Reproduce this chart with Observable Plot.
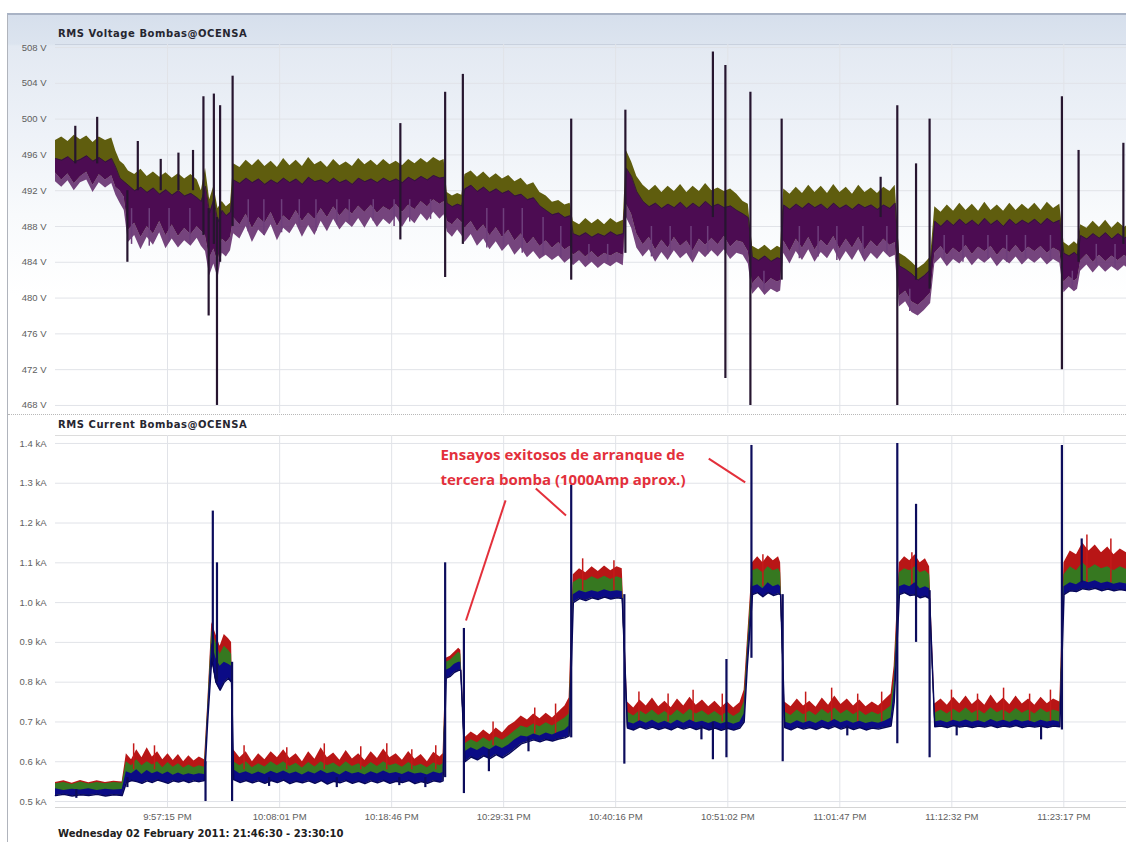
<!DOCTYPE html>
<html><head><meta charset="utf-8">
<script src="https://cdn.jsdelivr.net/npm/d3@7"></script>
<script src="https://cdn.jsdelivr.net/npm/@observablehq/plot@0.6"></script>
<style>
html,body{margin:0;padding:0;background:#fff;overflow:hidden;}
#wrap{position:relative;width:1126px;height:842px;overflow:hidden;}
#topbg{position:absolute;left:8px;top:15px;width:1118px;height:400px;background:linear-gradient(to bottom,#d6dfec 0px,#dce4ef 29px,#e3e9f2 31px,#eef2f8 120px,#f8fafc 200px,#ffffff 280px);}
#frameL{position:absolute;left:7px;top:13px;width:1px;height:829px;background:#b0b4bc;}
#frameT{position:absolute;left:7px;top:13px;width:1119px;height:2px;background:#a9b3c5;}
#line1{position:absolute;left:55px;top:44px;width:1071px;height:1px;background:#c9d1de;}
#sep{position:absolute;left:8px;top:414px;width:1118px;height:0;border-top:1px dotted #b8b8b8;}
#line2{position:absolute;left:55px;top:435px;width:1071px;height:1px;background:#dcdcdc;}
.title{position:absolute;left:58px;font-family:"DejaVu Sans",sans-serif;font-weight:bold;font-size:10px;letter-spacing:0.55px;color:#262630;white-space:nowrap;}
#caption{position:absolute;left:58px;top:828px;font-family:"DejaVu Sans",sans-serif;font-weight:bold;font-size:10px;line-height:12px;color:#202020;white-space:nowrap;}
.plot{position:absolute;left:0;}
</style></head>
<body><div id="wrap">
<div id="topbg"></div><div id="frameL"></div><div id="frameT"></div>
<div id="line1"></div><div id="sep"></div><div id="line2"></div>
<div id="p1" class="plot" style="top:14px"></div>
<div id="p2" class="plot" style="top:416px"></div>
<div class="title" style="top:28px">RMS Voltage Bombas@OCENSA</div>
<div class="title" style="top:419px">RMS Current Bombas@OCENSA</div>
<div id="caption">Wednesday 02 February 2011: 21:46:30 - 23:30:10</div>
</div>
<script>
// ---------- time axis ----------
const xTickTimes = ["21:57:15","22:08:01","22:18:46","22:29:31","22:40:16","22:51:02","23:01:47","23:12:32","23:23:17"];
const xTickLabels = ["9:57:15 PM","10:08:01 PM","10:18:46 PM","10:29:31 PM","10:40:16 PM","10:51:02 PM","11:01:47 PM","11:12:32 PM","11:23:17 PM"];
const startTime = "21:46:30";
const visibleMinutes = 102.8;

// ---------- voltage (V) : minutes after 21:46:30 ----------
const vTicks = [468,472,476,480,484,488,492,496,500,504,508];
const vTime = [
0.0,0.6,1.2,1.8,2.4,3.0,3.6,4.2,4.8,5.4,5.8,6.2,6.6,
7.0,7.6,8.2,8.8,9.4,10.0,10.6,11.2,11.8,12.4,13.0,13.6,
14.0,14.4,14.8,15.2,15.6,16.0,16.4,16.8,
17.1,17.7,18.3,18.9,19.5,20.1,20.7,21.3,21.9,22.5,23.1,23.7,24.3,24.9,25.5,26.1,26.7,27.3,27.9,28.5,29.1,29.7,30.3,30.9,31.5,32.1,32.7,33.3,33.9,34.5,35.1,35.7,36.3,36.9,37.3,
37.6,38.1,38.6,39.0,
39.3,39.9,40.5,41.1,41.7,42.3,42.9,43.5,44.1,44.7,45.3,45.9,46.5,47.1,47.7,48.3,48.9,49.4,
49.7,50.3,50.9,51.5,52.1,52.7,53.3,53.9,54.5,
54.8,55.3,55.8,56.4,57.0,57.6,58.2,58.8,59.4,60.0,60.6,61.2,61.8,62.4,63.0,63.6,64.2,64.8,65.4,66.0,66.5,
66.9,67.5,68.1,68.7,69.3,69.6,
69.9,70.5,71.1,71.7,72.3,72.9,73.5,74.1,74.7,75.3,75.9,76.5,77.1,77.7,78.3,78.9,79.5,80.1,80.6,
81.0,81.6,82.2,82.8,83.4,84.0,
84.4,85.0,85.6,86.2,86.8,87.4,88.0,88.6,89.2,89.8,90.4,91.0,91.6,92.2,92.8,93.4,94.0,94.6,95.2,95.8,96.4,
96.8,97.3,97.8,98.1,
98.4,99.0,99.6,100.2,100.8,101.4,102.0,102.6,103.2];
// phase A (olive) upper envelope
const vPhaseA = [
497.6,498.0,497.5,498.2,497.7,498.1,497.4,498.0,497.6,497.9,496.4,495.3,494.9,
494.2,493.8,494.4,493.6,494.1,493.5,494.0,493.4,493.9,493.3,493.8,493.2,
492.0,494.5,491.0,492.5,490.0,490.8,490.2,490.6,
495.0,494.6,495.4,494.8,495.5,494.7,495.3,494.6,495.6,494.8,495.4,494.7,495.7,494.9,495.3,494.6,495.5,494.8,495.2,494.7,495.6,494.9,495.4,494.8,495.5,494.9,495.3,494.8,495.5,495.0,495.6,495.1,495.7,495.3,495.5,
491.8,491.4,491.7,491.5,
493.8,494.2,493.5,494.1,493.4,493.9,493.3,493.7,493.0,493.4,492.6,492.9,491.8,491.4,490.7,490.9,490.4,490.6,
488.6,488.2,488.9,488.3,488.8,488.2,488.9,488.4,488.7,
496.5,495.2,493.6,492.6,492.0,492.6,491.8,492.5,491.9,492.7,491.8,492.5,491.9,492.8,492.0,492.3,491.9,492.2,491.6,490.8,490.5,
485.8,485.4,485.9,485.3,485.8,485.6,
492.2,491.6,492.4,491.7,492.6,491.8,492.5,491.7,492.7,491.8,492.4,491.6,492.6,491.8,492.3,491.7,492.4,491.9,492.6,
485.0,484.6,484.0,483.3,483.8,484.6,
490.2,489.6,490.4,489.7,490.6,489.8,490.5,489.7,490.7,489.8,490.4,489.7,490.6,489.8,490.5,489.9,490.6,489.8,490.7,490.0,490.5,
486.2,485.8,486.3,486.0,
488.2,487.8,488.6,487.9,488.7,487.8,488.5,487.9,488.4];
// phase B (purple) upper envelope
const vPhaseB = [
495.6,495.4,495.8,495.2,495.5,495.9,495.3,495.7,495.2,495.6,494.6,493.4,493.0,
492.6,492.0,492.4,491.8,492.3,491.6,492.1,491.5,492.0,491.4,491.7,491.2,
490.8,492.5,489.5,491.0,488.5,489.8,489.2,489.6,
493.2,492.8,493.4,492.9,493.3,492.7,493.2,492.8,493.4,492.9,493.3,492.7,493.5,493.0,493.2,492.8,493.4,492.9,493.2,492.7,493.4,493.0,493.3,492.9,493.4,493.0,493.3,492.9,493.5,493.1,493.6,493.2,493.7,493.4,493.5,
490.6,490.2,490.5,490.3,
492.2,492.6,491.9,492.4,491.8,492.2,491.7,492.0,491.4,491.6,491.0,491.2,490.3,489.8,489.3,489.5,489.0,489.2,
487.2,486.9,487.3,486.8,487.2,486.9,487.4,487.0,487.2,
494.5,493.6,491.9,490.8,490.2,490.6,490.0,490.5,490.1,490.7,490.0,490.6,490.1,490.8,490.2,490.5,490.1,490.3,489.8,489.4,489.0,
484.6,484.2,484.7,484.1,484.5,484.4,
490.4,489.9,490.5,490.0,490.6,490.1,490.5,489.9,490.6,490.0,490.4,489.9,490.5,490.1,490.4,489.9,490.4,490.0,490.6,
483.6,483.2,482.7,482.0,482.5,483.2,
488.6,488.0,488.7,488.1,488.8,488.2,488.7,488.1,488.9,488.2,488.7,488.0,488.8,488.2,488.7,488.3,488.8,488.2,488.9,488.4,488.7,
485.0,484.7,485.1,484.8,
487.0,486.6,487.2,486.7,487.3,486.6,487.2,486.7,487.1];
// phase B lower envelope of the dense body
const vPhaseBLow = [
494.0,493.2,493.9,492.8,493.6,494.1,492.6,493.8,493.2,493.7,492.4,492.0,491.3,
487.6,488.4,486.8,488.0,487.2,488.6,487.0,488.2,486.9,487.8,487.1,488.0,
487.5,487.0,484.5,485.5,484.0,486.6,486.2,486.8,
489.0,488.2,489.4,487.8,489.0,488.4,489.6,488.0,489.2,488.6,489.8,488.6,489.5,488.8,490.0,489.0,490.2,489.2,490.0,489.4,490.3,489.6,490.4,489.5,490.2,489.8,490.5,489.6,490.4,489.9,490.8,490.2,491.0,490.5,490.8,
488.6,488.2,488.9,488.5,
487.8,488.6,487.4,488.2,487.0,487.9,486.8,487.6,486.4,487.2,486.0,486.8,485.8,486.4,485.6,486.2,485.4,485.8,
484.8,485.3,484.6,485.2,484.5,485.0,484.7,485.1,484.8,
490.5,489.4,487.2,486.0,486.8,485.4,486.5,485.6,486.8,485.8,486.4,485.3,486.6,485.9,486.7,486.0,486.9,485.7,486.4,486.2,485.2,
481.6,482.4,481.5,482.2,481.8,482.0,
486.4,485.2,486.6,485.6,486.8,485.4,486.5,485.8,486.9,485.5,486.6,485.6,486.8,485.4,486.4,485.7,486.6,485.9,486.2,
480.2,480.8,479.6,479.2,479.8,480.6,
485.0,485.8,484.8,485.6,485.0,485.9,484.9,485.7,485.2,485.8,484.8,485.6,485.1,485.9,485.0,485.7,485.2,485.8,485.0,485.6,485.2,
481.8,482.4,481.9,482.2,
484.2,484.9,484.0,484.8,484.1,484.7,484.2,484.8,484.3];
// phase B lower fringe (deepest extent of the thin streaks)
const vPhaseBFringe = [
493.0,492.4,493.1,492.0,492.9,493.2,491.8,492.9,492.3,492.8,491.5,490.6,489.8,
486.2,487.0,485.4,486.8,485.9,487.3,485.5,486.6,485.6,486.4,485.8,486.7,
485.8,485.2,482.5,483.8,482.2,485.0,484.6,485.3,
487.2,486.6,488.0,486.2,487.6,486.9,488.2,486.4,487.8,487.2,488.3,486.8,488.1,487.0,488.6,487.4,488.8,487.6,488.5,487.9,488.9,487.8,489.0,487.9,488.8,488.2,489.1,487.9,489.0,488.3,489.4,488.6,489.6,488.8,489.3,
487.4,486.8,487.6,487.0,
486.2,487.1,485.8,486.6,485.4,486.3,485.2,486.0,484.8,485.6,484.5,485.2,484.3,484.8,484.2,484.7,483.9,484.4,
483.6,484.2,483.4,484.0,483.3,483.9,483.5,484.0,483.6,
489.0,487.8,485.6,484.6,485.4,484.0,485.1,484.2,485.3,484.4,485.0,483.9,485.2,484.5,485.3,484.6,485.4,484.3,485.0,484.8,483.8,
480.4,481.2,480.3,481.0,480.6,480.8,
485.0,483.8,485.2,484.2,485.4,484.0,485.1,484.4,485.5,484.1,485.2,484.2,485.4,484.0,485.0,484.3,485.2,484.5,484.8,
479.0,479.6,478.4,478.0,478.6,479.4,
483.8,484.5,483.5,484.3,483.8,484.6,483.6,484.4,483.9,484.5,483.5,484.3,483.8,484.6,483.7,484.4,483.9,484.5,483.7,484.3,483.9,
480.6,481.2,480.7,481.0,
483.0,483.7,482.8,483.6,482.9,483.5,483.0,483.6,483.1];
// transient spikes (voltage)
const vSpikeTime = [1.9,4.0,6.9,7.9,10.1,11.8,13.2,14.2,14.7,15.2,15.5,15.8,17.0,33.1,37.4,39.1,49.5,54.7,63.1,64.3,66.7,69.7,79.2,80.8,82.6,83.9,96.6,98.2,102.5];
const vSpikeLow  = [495,495,484.0,492,492,492,492,487,478,486,468,484,488,486.5,482.3,486.0,482.0,485.0,489,471.0,468.0,482,489,468.0,482,481,472.0,484,486];
const vSpikeHigh = [499.2,500.2,492,497.5,495.5,496.2,496.5,502.5,490,502.8,489,501.5,504.8,499.5,503.0,505.0,500.0,501.0,507.5,506.0,503.0,500.0,493.5,501.5,495.0,500.0,502.5,496.5,497.3];
// downward fringe needles (voltage)
const vFringeTime = [7.3,9.0,10.9,12.9,18.5,20.0,21.7,23.4,25.0,27.0,28.2,30.5,32.5,34.0,36.0,41.4,43.0,44.8,46.8,48.5,51.2,53.0,57.2,59.0,61.0,62.6,68.0,71.4,73.2,75.0,77.5,79.8,82.0,85.3,87.1,89.5,91.3,93.1,95.5,97.6,99.9,101.7];
const vFringeLow  = [486.0,485.8,486.3,486.0,487.4,487.0,487.3,487.8,487.5,488.2,488.5,488.6,488.0,488.5,488.8,485.6,485.5,485.0,484.8,484.5,484.2,484.0,484.6,484.8,484.4,484.9,480.8,484.4,484.6,484.2,484.5,484.9,478.5,484.2,484.0,484.3,484.0,484.4,484.1,481.0,483.6,483.4];
const vFringeHigh = [490,490,490,490,491,491,491,491,491,491,491,491,491,491,491,490,490,490,489,488,486,486,488,488,488,488,483,488,488,488,488,488,481,487,487,487,487,487,487,483,486,486];

// ---------- current (kA) ----------
const cTicks = [0.5,0.6,0.7,0.8,0.9,1.0,1.1,1.2,1.3,1.4];
const cTime = [
0.0,0.8,1.6,2.4,3.2,4.0,4.8,5.6,6.4,
6.8,7.3,7.8,8.3,8.8,9.3,9.8,10.3,10.8,11.3,11.8,12.3,12.8,13.3,13.8,14.3,
14.6,15.0,15.4,15.8,16.2,16.6,16.9,
17.1,17.7,18.3,18.9,19.5,20.1,20.7,21.3,21.9,22.5,23.1,23.7,24.3,24.9,25.5,26.1,26.7,27.3,27.9,28.5,29.1,29.7,30.3,30.9,31.5,32.1,32.7,33.3,33.9,34.5,35.1,35.7,36.3,36.9,37.2,
37.5,37.9,38.3,38.7,38.9,
39.3,39.9,40.5,41.1,41.7,42.3,42.9,43.5,44.1,44.7,45.3,45.9,46.5,47.1,47.7,48.3,48.9,49.3,
49.7,50.3,50.9,51.5,52.1,52.7,53.3,53.9,54.4,
54.9,55.5,56.1,56.7,57.3,57.9,58.5,59.1,59.7,60.3,60.9,61.5,62.1,62.7,63.3,63.9,64.5,65.1,65.7,66.1,66.4,
66.9,67.4,67.9,68.4,68.9,69.4,69.6,
70.0,70.6,71.2,71.8,72.4,73.0,73.6,74.2,74.8,75.4,76.0,76.6,77.2,77.8,78.4,79.0,79.6,80.2,80.5,
81.0,81.5,82.0,82.5,83.0,83.5,83.9,
84.4,85.0,85.6,86.2,86.8,87.4,88.0,88.6,89.2,89.8,90.4,91.0,91.6,92.2,92.8,93.4,94.0,94.6,95.2,95.8,96.4,
96.8,97.4,98.0,98.6,99.2,99.8,100.4,101.0,101.6,102.2,102.8,103.2];
const cPhaseRed = [
0.548,0.552,0.546,0.553,0.547,0.552,0.548,0.551,0.549,
0.62,0.605,0.63,0.61,0.635,0.612,0.625,0.605,0.62,0.603,0.618,0.60,0.615,0.602,0.612,0.605,
0.74,0.95,0.92,0.89,0.92,0.91,0.90,
0.63,0.61,0.625,0.60,0.62,0.605,0.625,0.61,0.63,0.608,0.62,0.60,0.625,0.606,0.635,0.61,0.622,0.604,0.628,0.607,0.62,0.603,0.625,0.608,0.632,0.61,0.62,0.604,0.626,0.606,0.618,0.60,0.624,0.612,0.62,
0.86,0.865,0.875,0.885,0.88,
0.66,0.675,0.665,0.68,0.668,0.685,0.672,0.69,0.70,0.715,0.705,0.72,0.708,0.722,0.71,0.725,0.74,0.76,
1.07,1.085,1.075,1.09,1.078,1.092,1.08,1.09,1.085,
0.75,0.735,0.755,0.74,0.76,0.738,0.752,0.736,0.758,0.74,0.762,0.742,0.755,0.738,0.752,0.736,0.75,0.735,0.748,0.78,0.90,
1.10,1.115,1.10,1.118,1.105,1.115,1.10,
0.75,0.738,0.758,0.74,0.752,0.737,0.76,0.742,0.765,0.744,0.758,0.74,0.755,0.738,0.75,0.74,0.755,0.77,0.84,
1.10,1.115,1.105,1.12,1.10,1.11,1.09,
0.745,0.758,0.742,0.762,0.745,0.765,0.744,0.758,0.742,0.768,0.746,0.76,0.743,0.765,0.745,0.758,0.742,0.762,0.746,0.758,0.75,
1.10,1.13,1.12,1.15,1.13,1.145,1.125,1.14,1.12,1.135,1.125,1.13];
const cPhaseGreen = [
0.545,0.548,0.543,0.549,0.544,0.548,0.545,0.548,0.546,
0.60,0.59,0.605,0.59,0.60,0.592,0.60,0.585,0.598,0.586,0.595,0.584,0.592,0.585,0.59,0.586,
0.73,0.93,0.90,0.87,0.89,0.88,0.87,
0.60,0.59,0.60,0.585,0.595,0.587,0.60,0.59,0.60,0.588,0.596,0.584,0.598,0.587,0.60,0.59,0.597,0.586,0.60,0.588,0.595,0.585,0.598,0.588,0.60,0.59,0.595,0.586,0.598,0.588,0.594,0.585,0.597,0.59,0.595,
0.85,0.855,0.865,0.875,0.87,
0.645,0.655,0.648,0.66,0.65,0.662,0.654,0.665,0.678,0.69,0.685,0.695,0.688,0.698,0.69,0.70,0.71,0.72,
1.05,1.06,1.055,1.065,1.058,1.066,1.058,1.065,1.06,
0.725,0.715,0.728,0.718,0.73,0.716,0.726,0.715,0.73,0.718,0.732,0.72,0.728,0.716,0.726,0.715,0.725,0.714,0.724,0.75,0.88,
1.08,1.085,1.075,1.09,1.08,1.085,1.075,
0.725,0.716,0.73,0.718,0.727,0.716,0.732,0.72,0.735,0.72,0.73,0.718,0.728,0.716,0.725,0.718,0.728,0.74,0.81,
1.075,1.085,1.08,1.09,1.075,1.08,1.07,
0.722,0.73,0.72,0.732,0.722,0.735,0.721,0.73,0.72,0.736,0.723,0.731,0.72,0.734,0.722,0.73,0.72,0.733,0.723,0.73,0.725,
1.07,1.09,1.08,1.10,1.085,1.095,1.085,1.09,1.08,1.09,1.083,1.087];
const cPhaseBlue = [
0.532,0.528,0.531,0.529,0.532,0.528,0.531,0.529,0.530,
0.575,0.57,0.58,0.568,0.578,0.57,0.575,0.568,0.574,0.566,0.572,0.566,0.57,0.567,0.57,0.568,
0.72,0.90,0.86,0.84,0.85,0.845,0.84,
0.58,0.57,0.575,0.568,0.574,0.568,0.576,0.57,0.577,0.569,0.574,0.567,0.575,0.569,0.578,0.57,0.574,0.567,0.576,0.569,0.573,0.567,0.575,0.569,0.577,0.57,0.573,0.568,0.575,0.569,0.572,0.567,0.574,0.57,0.573,
0.83,0.835,0.845,0.85,0.85,
0.625,0.635,0.628,0.638,0.63,0.64,0.633,0.642,0.655,0.665,0.662,0.67,0.665,0.672,0.667,0.674,0.68,0.69,
1.02,1.03,1.025,1.03,1.026,1.032,1.027,1.03,1.028,
0.70,0.695,0.703,0.697,0.704,0.696,0.702,0.695,0.704,0.697,0.705,0.698,0.702,0.696,0.701,0.695,0.70,0.694,0.70,0.72,0.86,
1.04,1.045,1.035,1.05,1.04,1.045,1.04,
0.70,0.695,0.703,0.697,0.702,0.696,0.704,0.698,0.706,0.698,0.703,0.697,0.702,0.696,0.70,0.697,0.702,0.71,0.78,
1.04,1.045,1.04,1.05,1.035,1.04,1.035,
0.70,0.703,0.698,0.704,0.70,0.705,0.699,0.703,0.698,0.706,0.70,0.704,0.699,0.705,0.70,0.703,0.698,0.704,0.70,0.703,0.70,
1.04,1.05,1.045,1.055,1.05,1.055,1.048,1.052,1.046,1.05,1.047,1.05];
const cPhaseBlueLow = [
0.515,0.518,0.514,0.517,0.515,0.518,0.514,0.517,0.515,
0.548,0.553,0.55,0.546,0.552,0.548,0.554,0.55,0.546,0.552,0.549,0.553,0.548,0.552,0.55,0.553,
0.70,0.86,0.80,0.78,0.80,0.81,0.80,
0.555,0.548,0.553,0.547,0.552,0.546,0.553,0.548,0.554,0.545,0.551,0.547,0.552,0.546,0.553,0.544,0.551,0.547,0.553,0.546,0.551,0.545,0.552,0.547,0.553,0.546,0.551,0.548,0.553,0.545,0.55,0.546,0.552,0.549,0.552,
0.81,0.815,0.825,0.83,0.83,
0.60,0.612,0.605,0.615,0.608,0.618,0.61,0.62,0.632,0.645,0.65,0.655,0.65,0.656,0.652,0.657,0.66,0.665,
1.00,1.01,1.005,1.012,1.008,1.014,1.009,1.012,1.01,
0.685,0.68,0.688,0.682,0.687,0.681,0.686,0.68,0.688,0.682,0.687,0.681,0.686,0.68,0.685,0.679,0.684,0.68,0.685,0.70,0.84,
1.02,1.025,1.015,1.025,1.018,1.022,1.02,
0.686,0.68,0.688,0.682,0.686,0.681,0.688,0.683,0.689,0.682,0.687,0.681,0.686,0.68,0.685,0.682,0.686,0.69,0.75,
1.02,1.025,1.018,1.02,1.012,1.016,1.01,
0.688,0.69,0.686,0.691,0.687,0.69,0.686,0.69,0.687,0.691,0.686,0.69,0.687,0.691,0.686,0.69,0.687,0.69,0.686,0.69,0.688,
1.02,1.03,1.028,1.035,1.032,1.036,1.03,1.034,1.03,1.033,1.03,1.032];
// transient spikes (current)
const cSpikeTime = [2.0,6.9,14.4,15.1,15.5,16.95,20.5,27.0,33.0,35.5,37.4,39.2,41.6,45.4,49.5,54.6,62.0,63.1,64.4,66.8,69.8,76.0,80.8,82.6,83.9,86.5,94.6,96.6,98.5];
const cSpikeLow  = [0.508,0.535,0.50,0.85,0.80,0.50,0.538,0.535,0.54,0.535,0.56,0.52,0.575,0.625,0.66,0.594,0.655,0.605,0.61,0.86,0.60,0.665,0.645,0.90,0.61,0.665,0.655,0.68,1.05];
const cSpikeHigh = [0.53,0.56,0.60,1.23,1.10,0.85,0.56,0.56,0.56,0.56,1.10,0.935,0.63,0.66,1.295,1.02,0.69,0.70,0.857,1.395,1.02,0.69,1.40,1.247,1.03,0.69,0.69,1.395,1.16];
// upward fringe needles (red phase)
const cFringeTime = [7.5,9.5,18.1,22.2,25.8,29.3,31.8,34.2,36.5,42.0,46.0,48.0,50.6,53.6,56.0,58.8,61.2,64.0,67.9,72.0,74.5,77.0,79.3,82.2,86.0,88.5,91.0,93.5,95.5,99.0,101.3];
const cFringeLow  = [0.58,0.58,0.58,0.58,0.58,0.58,0.58,0.58,0.58,0.64,0.67,0.67,1.03,1.03,0.70,0.70,0.70,0.70,1.04,0.70,0.70,0.70,0.70,1.04,0.70,0.70,0.70,0.70,0.70,1.05,1.05];
const cFringeHigh = [0.645,0.64,0.64,0.635,0.645,0.638,0.645,0.63,0.64,0.70,0.735,0.745,1.11,1.105,0.775,0.77,0.78,0.77,1.12,0.775,0.785,0.77,0.775,1.125,0.78,0.77,0.785,0.77,0.78,1.17,1.16];

// ---------- annotation ----------
const annText = ["Ensayos exitosos de arranque de", "tercera bomba (1000Amp aprox.)"];
const annTextTime = [36.95, 36.95];
const annTextKA = [1.370, 1.307];
const annLineFromTime = [43.2, 46.1, 62.7];
const annLineFromKA = [1.257, 1.287, 1.362];
const annLineToTime = [39.4, 49.0, 66.2];
const annLineToKA = [0.955, 1.219, 1.302];

// ---------- build ----------
const [sh, sm, ss] = startTime.split(":").map(Number);
const BASE = Date.UTC(2011, 1, 2, sh, sm, ss);
const toDate = m => new Date(BASE + m * 60000);
const clock = s => { const [h, m, x] = s.split(":").map(Number); return new Date(Date.UTC(2011, 1, 2, h, m, x)); };
const xTickDates = xTickTimes.map(clock);
const labelOf = new Map(xTickDates.map((d, i) => [+d, xTickLabels[i]]));
const xDomain = [toDate(0), toDate(visibleMinutes)];

const vData = vTime.map((t, i) => ({date: toDate(t), a: vPhaseA[i], b: vPhaseB[i], bLow: vPhaseBLow[i], fr: vPhaseBFringe[i]}));
const vSpikes = vSpikeTime.map((t, i) => ({date: toDate(t), lo: vSpikeLow[i], hi: vSpikeHigh[i]}));
const vFringe = vFringeTime.map((t, i) => ({date: toDate(t), lo: vFringeLow[i], hi: vFringeHigh[i]}));
const cData = cTime.map((t, i) => ({date: toDate(t), r: cPhaseRed[i], g: cPhaseGreen[i], b: cPhaseBlue[i], bLow: cPhaseBlueLow[i]}));
const cSpikes = cSpikeTime.map((t, i) => ({date: toDate(t), lo: cSpikeLow[i], hi: cSpikeHigh[i]}));
const cFringe = cFringeTime.map((t, i) => ({date: toDate(t), lo: cFringeLow[i], hi: cFringeHigh[i]}));
const ann = annText.map((s, i) => ({date: toDate(annTextTime[i]), y: annTextKA[i], text: s}));
const annLines = annLineFromTime.map((t, i) => ({d1: toDate(t), y1: annLineFromKA[i], d2: toDate(annLineToTime[i]), y2: annLineToKA[i]}));

const axisStyle = {background: "transparent", fontFamily: "'Liberation Sans', Arial, sans-serif", fontSize: "9.5px", color: "#5e5e5e", overflow: "visible"};
const gridColor = "#e1e3e8";

const p1 = Plot.plot({
  width: 1126, height: 401, marginLeft: 55, marginRight: 0, marginTop: 30, marginBottom: 2,
  style: axisStyle,
  x: {type: "utc", domain: xDomain, axis: null, label: null},
  y: {domain: [467.1, 508.34], ticks: vTicks, tickFormat: d => d + " V", tickSize: 0, tickPadding: 9, label: null},
  marks: [
    Plot.ruleX(xTickDates, {stroke: gridColor}),
    Plot.ruleY(vTicks, {stroke: gridColor}),
    Plot.areaY(vData, {x: "date", y1: "bLow", y2: "a", fill: "#5f5d0e"}),
    Plot.areaY(vData, {x: "date", y1: "fr", y2: "bLow", fill: "#66306f", fillOpacity: 0.9}),
    Plot.areaY(vData, {x: "date", y1: "bLow", y2: "b", fill: "#4c0c52"}),
    Plot.ruleX(vFringe, {x: "date", y1: "lo", y2: "hi", stroke: "#6e3f7c", strokeWidth: 1.5}),
    Plot.lineY(vData, {x: "date", y: "b", stroke: "#2c1636", strokeWidth: 0.8}),
    Plot.ruleX(vSpikes, {x: "date", y1: "lo", y2: "hi", stroke: "#26152f", strokeWidth: 2.2})
  ]
});
document.getElementById("p1").appendChild(p1);

const p2 = Plot.plot({
  width: 1126, height: 426, marginLeft: 55, marginRight: 0, marginTop: 19, marginBottom: 35,
  style: axisStyle,
  x: {type: "utc", domain: xDomain, ticks: xTickDates, tickFormat: d => labelOf.get(+d) ?? "", tickSize: 0, tickPadding: 6, label: null},
  y: {domain: [0.485, 1.42], ticks: cTicks, tickFormat: d => d.toFixed(1) + " kA", tickSize: 0, tickPadding: 9, label: null},
  marks: [
    Plot.ruleX(xTickDates, {stroke: gridColor}),
    Plot.ruleY(cTicks, {stroke: gridColor}),
    Plot.ruleY([0.485], {stroke: "#d4d4d4"}),
    Plot.areaY(cData, {x: "date", y1: "bLow", y2: "r", fill: "#b81616"}),
    Plot.areaY(cData, {x: "date", y1: "bLow", y2: "g", fill: "#1f8a22", fillOpacity: 0.85}),
    Plot.ruleX(cFringe, {x: "date", y1: "lo", y2: "hi", stroke: "#c41a1a", strokeWidth: 1.5}),
    Plot.areaY(cData, {x: "date", y1: "bLow", y2: "b", fill: "#0b0b86"}),
    Plot.lineY(cData, {x: "date", y: "bLow", stroke: "#06065c", strokeWidth: 1.5}),
    Plot.ruleX(cSpikes, {x: "date", y1: "lo", y2: "hi", stroke: "#0c0c5c", strokeWidth: 2.2}),
    Plot.link(annLines, {x1: "d1", y1: "y1", x2: "d2", y2: "y2", stroke: "#e3303b", strokeWidth: 2}),
    Plot.text(ann, {x: "date", y: "y", text: "text", textAnchor: "start", fill: "#e3303b", fontSize: 15, fontWeight: "bold", fontFamily: "'Open Sans', sans-serif"})
  ]
});
document.getElementById("p2").appendChild(p2);
</script>
</body></html>
